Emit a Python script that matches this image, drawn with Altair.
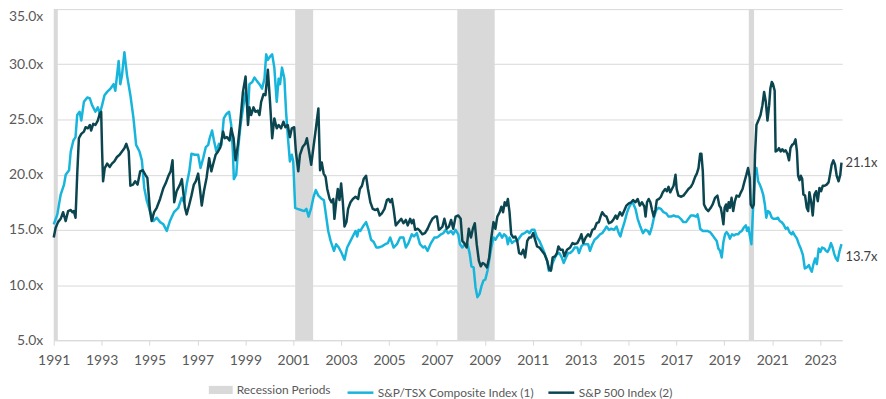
import altair as alt
import pandas as pd

# ---- data (decimal year, forward P/E) ----
tsx_points = [
    (1991.00, 15.5), (1991.15, 16.4), (1991.29, 18.2), (1991.43, 19.1), (1991.50, 20.0),
    (1991.64, 20.4), (1991.71, 22.1), (1991.82, 23.1), (1991.91, 23.4), (1991.98, 25.4),
    (1992.08, 25.7), (1992.15, 24.9), (1992.26, 26.6), (1992.40, 27.0), (1992.51, 26.9),
    (1992.60, 26.3), (1992.74, 25.7), (1992.84, 26.1), (1992.92, 25.5), (1993.02, 26.3),
    (1993.12, 27.2), (1993.23, 27.5), (1993.37, 27.8), (1993.50, 28.2), (1993.57, 27.6),
    (1993.71, 30.3), (1993.78, 28.2), (1993.85, 29.0), (1993.95, 31.1), (1994.06, 29.0),
    (1994.20, 27.2), (1994.33, 25.1), (1994.44, 22.7), (1994.58, 22.1), (1994.68, 21.3),
    (1994.78, 18.8), (1994.89, 17.6), (1995.02, 16.7), (1995.16, 15.8), (1995.30, 16.1),
    (1995.44, 15.7), (1995.58, 15.5), (1995.72, 14.9), (1995.85, 15.8), (1996.02, 16.6),
    (1996.20, 17.0), (1996.34, 17.9), (1996.44, 17.5), (1996.55, 19.1), (1996.66, 20.3),
    (1996.75, 21.9), (1996.89, 21.8), (1997.03, 21.8), (1997.13, 20.6), (1997.24, 21.5),
    (1997.35, 22.5), (1997.45, 22.7), (1997.51, 23.3), (1997.61, 24.0), (1997.69, 23.1),
    (1997.79, 22.1), (1997.90, 22.8), (1998.00, 22.7), (1998.10, 25.1), (1998.21, 25.5),
    (1998.32, 25.7), (1998.41, 24.5), (1998.48, 22.1), (1998.52, 19.6), (1998.62, 20.0),
    (1998.70, 22.4), (1998.80, 24.5), (1998.90, 26.0), (1999.01, 27.5), (1999.11, 25.7),
    (1999.17, 28.2), (1999.29, 28.4), (1999.38, 28.8), (1999.48, 28.5), (1999.59, 28.2),
    (1999.70, 27.8), (1999.80, 28.7), (1999.87, 30.9), (1999.94, 30.4), (2000.03, 30.7),
    (2000.12, 30.9), (2000.21, 29.7), (2000.31, 26.6), (2000.39, 28.7), (2000.45, 28.2),
    (2000.53, 29.7), (2000.63, 28.7), (2000.70, 25.7), (2000.78, 23.3), (2000.86, 21.2),
    (2000.94, 21.8), (2001.00, 21.2), (2001.08, 17.0), (2001.18, 16.9), (2001.32, 16.8),
    (2001.46, 16.7), (2001.55, 16.9), (2001.64, 16.2), (2001.75, 17.0), (2001.85, 18.0),
    (2001.94, 18.6), (2002.05, 18.1), (2002.19, 17.8), (2002.28, 17.7), (2002.46, 14.9),
    (2002.56, 14.0), (2002.70, 13.1), (2002.79, 13.7), (2002.90, 13.4), (2003.02, 12.9),
    (2003.14, 12.3), (2003.25, 13.4), (2003.39, 14.0), (2003.53, 14.6), (2003.60, 14.9),
    (2003.67, 14.4), (2003.73, 15.0), (2003.80, 14.9), (2003.94, 15.4), (2004.04, 15.7),
    (2004.15, 15.0), (2004.25, 14.1), (2004.36, 13.9), (2004.47, 13.4), (2004.56, 13.4),
    (2004.70, 13.5), (2004.84, 13.7), (2004.95, 13.8), (2005.05, 14.3), (2005.19, 13.4),
    (2005.33, 13.7), (2005.46, 14.3), (2005.60, 14.3), (2005.70, 13.4), (2005.81, 13.8),
    (2005.95, 14.6), (2006.04, 14.4), (2006.16, 14.7), (2006.29, 13.7), (2006.43, 13.4),
    (2006.50, 13.5), (2006.61, 13.1), (2006.75, 13.8), (2006.89, 14.3), (2006.99, 14.3),
    (2007.06, 14.4), (2007.17, 14.6), (2007.27, 14.7), (2007.36, 15.0), (2007.47, 14.7),
    (2007.59, 14.9), (2007.68, 14.6), (2007.78, 15.0), (2007.89, 14.6), (2007.96, 13.7),
    (2008.06, 13.4), (2008.17, 13.7), (2008.28, 13.7), (2008.37, 12.8), (2008.44, 11.7),
    (2008.53, 11.6), (2008.61, 9.8), (2008.69, 8.9), (2008.78, 9.2), (2008.86, 9.9),
    (2008.94, 10.4), (2009.02, 10.5), (2009.11, 11.3), (2009.20, 12.5), (2009.27, 13.4),
    (2009.36, 14.3), (2009.44, 14.1), (2009.52, 14.4), (2009.62, 14.7), (2009.72, 14.3),
    (2009.80, 14.6), (2009.90, 14.4), (2009.96, 13.7), (2010.03, 14.3), (2010.13, 13.8),
    (2010.24, 14.0), (2010.35, 14.0), (2010.45, 14.3), (2010.55, 14.6), (2010.66, 14.7),
    (2010.77, 14.9), (2010.86, 14.7), (2010.96, 15.0), (2011.07, 15.0), (2011.18, 14.3),
    (2011.28, 14.0), (2011.38, 13.5), (2011.49, 12.9), (2011.60, 12.2), (2011.67, 11.3),
    (2011.76, 11.4), (2011.83, 12.0), (2011.93, 12.5), (2012.01, 12.8), (2012.11, 12.9),
    (2012.21, 12.5), (2012.29, 12.0), (2012.39, 12.5), (2012.48, 12.9), (2012.56, 12.9),
    (2012.66, 13.1), (2012.75, 13.4), (2012.86, 13.4), (2012.93, 12.9), (2013.03, 13.5),
    (2013.11, 13.7), (2013.21, 13.7), (2013.31, 13.7), (2013.39, 13.1), (2013.49, 13.7),
    (2013.58, 14.1), (2013.69, 14.3), (2013.81, 14.6), (2013.90, 14.7), (2014.00, 15.0),
    (2014.08, 15.3), (2014.18, 15.0), (2014.28, 15.1), (2014.39, 15.0), (2014.50, 15.3),
    (2014.59, 14.7), (2014.66, 14.4), (2014.73, 15.0), (2014.83, 15.7), (2014.94, 16.6),
    (2015.01, 17.0), (2015.11, 17.4), (2015.19, 17.4), (2015.29, 16.9), (2015.38, 16.0),
    (2015.49, 15.3), (2015.60, 14.7), (2015.70, 15.0), (2015.80, 14.9), (2015.88, 14.6),
    (2015.98, 15.3), (2016.07, 16.2), (2016.16, 16.8), (2016.25, 17.0), (2016.35, 16.9),
    (2016.46, 16.6), (2016.57, 16.5), (2016.67, 16.2), (2016.77, 16.2), (2016.88, 16.3),
    (2016.99, 16.2), (2017.08, 16.2), (2017.18, 16.0), (2017.29, 15.7), (2017.40, 15.7),
    (2017.50, 16.0), (2017.60, 16.3), (2017.71, 16.3), (2017.82, 16.2), (2017.88, 16.4),
    (2017.94, 15.8), (2017.99, 15.1), (2018.10, 14.9), (2018.20, 14.9), (2018.29, 14.9),
    (2018.40, 14.8), (2018.51, 14.5), (2018.61, 14.2), (2018.68, 14.0), (2018.75, 13.3),
    (2018.82, 13.1), (2018.89, 12.5), (2018.96, 13.9), (2019.03, 14.6), (2019.09, 14.8),
    (2019.16, 14.6), (2019.23, 14.2), (2019.32, 14.6), (2019.40, 14.5), (2019.48, 14.6),
    (2019.58, 14.6), (2019.65, 14.8), (2019.73, 14.9), (2019.81, 15.2), (2019.90, 15.4),
    (2019.95, 14.9), (2020.01, 15.2), (2020.06, 14.5), (2020.13, 13.7), (2020.20, 17.0),
    (2020.27, 20.0), (2020.34, 20.6), (2020.41, 19.4), (2020.48, 19.1), (2020.55, 18.7),
    (2020.62, 18.2), (2020.69, 17.3), (2020.75, 16.1), (2020.82, 16.7), (2020.89, 16.6),
    (2020.98, 16.1), (2021.06, 16.0), (2021.14, 16.0), (2021.24, 16.1), (2021.31, 15.8),
    (2021.39, 15.7), (2021.47, 15.5), (2021.56, 15.1), (2021.64, 15.2), (2021.72, 14.8),
    (2021.81, 14.6), (2021.86, 14.8), (2021.94, 14.5), (2022.03, 14.2), (2022.11, 13.7),
    (2022.19, 13.3), (2022.28, 12.7), (2022.36, 11.5), (2022.44, 11.6), (2022.53, 11.8),
    (2022.58, 11.5), (2022.65, 11.2), (2022.72, 11.9), (2022.79, 12.4), (2022.86, 11.9),
    (2022.94, 13.3), (2023.01, 13.0), (2023.08, 13.4), (2023.18, 13.3), (2023.24, 13.1),
    (2023.31, 13.0), (2023.38, 13.3), (2023.45, 13.8), (2023.52, 13.4), (2023.59, 12.8),
    (2023.66, 12.4), (2023.73, 12.2), (2023.80, 13.0), (2023.89, 13.7),
]

spx_points = [
    (1991.00, 14.3), (1991.08, 15.2), (1991.18, 15.7), (1991.29, 16.0), (1991.39, 16.6),
    (1991.50, 15.8), (1991.60, 16.7), (1991.71, 16.8), (1991.78, 16.6), (1991.84, 16.7),
    (1991.91, 16.1), (1991.98, 20.0), (1992.05, 23.3), (1992.15, 23.7), (1992.26, 23.9),
    (1992.33, 24.3), (1992.42, 24.2), (1992.51, 24.5), (1992.56, 24.0), (1992.65, 24.6),
    (1992.74, 24.5), (1992.84, 24.9), (1992.92, 25.5), (1992.98, 25.7), (1993.02, 22.1),
    (1993.06, 19.4), (1993.13, 20.6), (1993.23, 21.0), (1993.34, 20.7), (1993.43, 21.0),
    (1993.53, 21.2), (1993.64, 21.6), (1993.75, 21.8), (1993.85, 22.1), (1993.95, 22.4),
    (1994.03, 22.8), (1994.13, 22.1), (1994.20, 19.0), (1994.31, 19.1), (1994.40, 19.4),
    (1994.50, 19.1), (1994.61, 20.3), (1994.72, 20.4), (1994.82, 20.0), (1994.91, 19.7),
    (1995.02, 16.7), (1995.09, 15.8), (1995.19, 16.6), (1995.30, 17.0), (1995.44, 17.8),
    (1995.58, 18.8), (1995.69, 19.3), (1995.79, 19.9), (1995.88, 20.3), (1995.96, 21.3),
    (1996.03, 17.5), (1996.13, 18.5), (1996.27, 19.1), (1996.35, 19.6), (1996.48, 17.0),
    (1996.55, 16.4), (1996.66, 17.3), (1996.75, 18.1), (1996.85, 19.1), (1996.93, 19.4),
    (1997.03, 20.1), (1997.10, 18.8), (1997.18, 17.2), (1997.27, 18.5), (1997.38, 19.7),
    (1997.49, 21.5), (1997.58, 20.3), (1997.65, 20.9), (1997.76, 21.8), (1997.86, 22.1),
    (1997.96, 22.5), (1998.07, 23.9), (1998.14, 23.3), (1998.23, 23.4), (1998.34, 23.1),
    (1998.41, 24.2), (1998.51, 23.3), (1998.59, 21.3), (1998.69, 22.7), (1998.79, 24.8),
    (1998.90, 27.5), (1999.01, 28.9), (1999.11, 24.5), (1999.17, 26.1), (1999.24, 25.4),
    (1999.34, 26.1), (1999.42, 25.7), (1999.52, 25.8), (1999.59, 25.4), (1999.66, 26.6),
    (1999.76, 27.3), (1999.84, 27.2), (1999.94, 29.5), (2000.03, 26.6), (2000.12, 23.3),
    (2000.21, 25.1), (2000.31, 24.2), (2000.39, 24.5), (2000.49, 24.2), (2000.59, 24.8),
    (2000.67, 24.3), (2000.77, 24.5), (2000.86, 23.4), (2000.94, 24.2), (2001.04, 24.3),
    (2001.11, 22.1), (2001.21, 20.3), (2001.28, 21.8), (2001.39, 22.5), (2001.50, 22.8),
    (2001.57, 23.3), (2001.66, 22.1), (2001.75, 20.9), (2001.85, 22.6), (2001.94, 24.1),
    (2002.05, 26.0), (2002.12, 20.4), (2002.19, 21.1), (2002.27, 20.1), (2002.35, 19.8),
    (2002.42, 18.7), (2002.52, 17.8), (2002.60, 17.5), (2002.67, 17.8), (2002.72, 16.0),
    (2002.79, 17.5), (2002.86, 18.7), (2002.93, 17.7), (2003.00, 19.2), (2003.07, 17.5),
    (2003.14, 15.3), (2003.22, 15.7), (2003.29, 16.9), (2003.39, 17.5), (2003.49, 17.8),
    (2003.60, 18.0), (2003.71, 17.8), (2003.78, 18.7), (2003.87, 19.0), (2003.94, 19.6),
    (2004.04, 19.9), (2004.12, 18.7), (2004.22, 17.5), (2004.32, 16.9), (2004.43, 16.8),
    (2004.52, 16.9), (2004.61, 16.3), (2004.70, 16.5), (2004.81, 16.9), (2004.91, 17.7),
    (2004.98, 17.8), (2005.05, 17.5), (2005.12, 17.8), (2005.19, 16.9), (2005.28, 15.4),
    (2005.39, 15.7), (2005.51, 16.0), (2005.60, 15.6), (2005.70, 15.9), (2005.78, 15.4),
    (2005.88, 16.0), (2005.95, 15.6), (2006.02, 15.9), (2006.09, 15.0), (2006.20, 15.1),
    (2006.29, 14.9), (2006.39, 14.6), (2006.50, 14.7), (2006.61, 15.1), (2006.71, 15.6),
    (2006.81, 16.0), (2006.92, 16.2), (2007.00, 16.2), (2007.08, 15.0), (2007.14, 15.1),
    (2007.23, 15.3), (2007.31, 16.0), (2007.41, 15.1), (2007.50, 15.3), (2007.59, 15.9),
    (2007.68, 15.1), (2007.78, 16.2), (2007.89, 16.3), (2007.99, 16.0), (2008.06, 14.0),
    (2008.14, 13.8), (2008.24, 13.4), (2008.33, 15.1), (2008.42, 14.3), (2008.50, 15.1),
    (2008.58, 15.6), (2008.66, 13.7), (2008.75, 12.2), (2008.83, 11.7), (2008.91, 12.0),
    (2008.98, 11.9), (2009.09, 11.6), (2009.18, 12.5), (2009.27, 14.3), (2009.36, 15.7),
    (2009.44, 15.1), (2009.52, 16.2), (2009.62, 16.6), (2009.69, 17.1), (2009.76, 16.6),
    (2009.83, 17.5), (2009.90, 17.2), (2009.96, 17.8), (2010.03, 16.6), (2010.10, 14.6),
    (2010.19, 14.3), (2010.27, 14.4), (2010.35, 14.0), (2010.43, 12.9), (2010.52, 12.8),
    (2010.60, 13.2), (2010.68, 12.5), (2010.77, 14.0), (2010.85, 14.3), (2010.93, 14.3),
    (2011.02, 14.7), (2011.10, 14.1), (2011.18, 13.5), (2011.28, 13.4), (2011.38, 13.1),
    (2011.49, 12.8), (2011.60, 12.2), (2011.69, 11.4), (2011.76, 11.3), (2011.83, 12.5),
    (2011.93, 12.6), (2012.01, 12.9), (2012.07, 13.5), (2012.15, 13.2), (2012.25, 13.2),
    (2012.32, 12.6), (2012.43, 13.2), (2012.56, 13.4), (2012.66, 13.8), (2012.75, 13.7),
    (2012.86, 13.8), (2012.98, 14.3), (2013.03, 14.6), (2013.11, 13.8), (2013.21, 14.3),
    (2013.31, 14.6), (2013.39, 14.4), (2013.49, 15.0), (2013.58, 15.1), (2013.67, 15.6),
    (2013.76, 15.7), (2013.83, 16.2), (2013.90, 16.6), (2014.00, 16.3), (2014.08, 16.2),
    (2014.18, 15.6), (2014.28, 15.7), (2014.36, 15.9), (2014.46, 16.3), (2014.52, 16.0),
    (2014.64, 16.6), (2014.73, 16.3), (2014.83, 16.8), (2014.91, 17.2), (2015.01, 17.4),
    (2015.11, 17.5), (2015.19, 17.7), (2015.29, 17.5), (2015.38, 17.8), (2015.47, 17.2),
    (2015.56, 17.5), (2015.66, 17.1), (2015.71, 16.2), (2015.77, 17.5), (2015.84, 17.8),
    (2015.91, 17.5), (2015.98, 16.8), (2016.05, 16.2), (2016.12, 16.8), (2016.18, 17.7),
    (2016.27, 17.8), (2016.35, 18.0), (2016.43, 18.4), (2016.53, 18.7), (2016.60, 18.5),
    (2016.67, 18.9), (2016.74, 18.4), (2016.81, 18.7), (2016.88, 19.0), (2016.96, 20.0),
    (2017.01, 18.7), (2017.08, 18.1), (2017.18, 18.0), (2017.29, 18.1), (2017.40, 18.4),
    (2017.50, 18.7), (2017.60, 18.9), (2017.68, 19.2), (2017.78, 19.8), (2017.85, 20.1),
    (2017.92, 20.6), (2017.99, 21.9), (2018.04, 21.9), (2018.10, 20.3), (2018.15, 17.3),
    (2018.24, 16.9), (2018.33, 16.7), (2018.43, 17.0), (2018.51, 17.3), (2018.61, 17.9),
    (2018.71, 18.1), (2018.79, 17.2), (2018.85, 17.0), (2018.90, 16.4), (2018.96, 15.5),
    (2019.01, 17.0), (2019.07, 17.3), (2019.12, 16.7), (2019.18, 17.5), (2019.23, 17.0),
    (2019.30, 17.9), (2019.37, 16.7), (2019.44, 17.6), (2019.51, 18.1), (2019.61, 18.0),
    (2019.69, 18.4), (2019.76, 18.7), (2019.83, 19.3), (2019.92, 20.0), (2019.99, 20.6),
    (2020.06, 19.7), (2020.10, 17.3), (2020.17, 17.0), (2020.23, 17.3), (2020.28, 21.8),
    (2020.34, 24.5), (2020.42, 24.9), (2020.51, 25.4), (2020.59, 26.3), (2020.66, 27.5),
    (2020.73, 26.6), (2020.80, 24.9), (2020.87, 26.3), (2020.92, 27.8), (2020.98, 28.4),
    (2021.03, 28.2), (2021.10, 27.6), (2021.14, 22.1), (2021.21, 22.2), (2021.28, 22.4),
    (2021.35, 22.1), (2021.42, 22.3), (2021.49, 22.1), (2021.56, 22.2), (2021.63, 21.9),
    (2021.70, 21.3), (2021.76, 22.4), (2021.83, 22.7), (2021.90, 22.8), (2021.97, 23.2),
    (2022.03, 22.1), (2022.08, 19.9), (2022.14, 19.5), (2022.19, 19.9), (2022.25, 19.6),
    (2022.30, 18.2), (2022.37, 18.1), (2022.44, 17.0), (2022.50, 16.7), (2022.55, 18.4),
    (2022.62, 17.6), (2022.69, 16.3), (2022.76, 18.2), (2022.83, 18.5), (2022.90, 17.6),
    (2022.97, 18.8), (2023.04, 18.5), (2023.11, 19.0), (2023.19, 19.0), (2023.27, 19.1),
    (2023.35, 19.3), (2023.41, 20.0), (2023.48, 20.9), (2023.55, 21.3), (2023.62, 20.9),
    (2023.69, 19.9), (2023.77, 19.4), (2023.84, 20.0), (2023.89, 21.1),
]

recession_start = [1991.00, 2001.08, 2007.85, 2020.02]
recession_end = [1991.17, 2001.83, 2009.41, 2020.24]
recession_label = "Recession Periods"

series_names = ["S&P/TSX Composite Index (1)", "S&P 500 Index (2)"]
series_colors = ["#17b4dc", "#0b4650"]
year_ticks = list(range(1991, 2024, 2))
pe_ticks = [5, 10, 15, 20, 25, 30, 35]

FONT = "Lato"
GREY_TXT = "#595959"
GRID = "#d9d9d9"

tsx_df = pd.DataFrame(tsx_points, columns=["year", "pe"])
tsx_df["series"] = series_names[0]
spx_df = pd.DataFrame(spx_points, columns=["year", "pe"])
spx_df["series"] = series_names[1]
rec_df = pd.DataFrame({"start": recession_start, "end": recession_end,
                       "label": [recession_label] * len(recession_start)})

x_scale = alt.Scale(domain=[1991, 2023.92], nice=False, zero=False)
y_scale = alt.Scale(domain=[5, 35], nice=False, zero=False)

x_axis = alt.Axis(values=year_ticks, format="d", title=None, grid=False,
                  domainColor=GRID, tickColor=GRID, tickSize=5, labelPadding=8,
                  labelFont=FONT, labelFontSize=14, labelColor=GREY_TXT,
                  labelFlush=False, labelOverlap=False)
y_axis = alt.Axis(values=pe_ticks, labelExpr="format(datum.value, '.1f') + 'x'",
                  title=None, grid=True, gridColor=GRID, domain=False, ticks=False,
                  labelPadding=11, labelFont=FONT, labelFontSize=14, labelColor=GREY_TXT,
                  labelBaseline={"condition": {"test": "datum.value == 35", "value": "top"},
                                 "value": "middle"},
                  minExtent=43, maxExtent=43)

rec = alt.Chart(rec_df).mark_rect(opacity=1).encode(
    x=alt.X("start:Q", scale=x_scale, axis=x_axis),
    x2="end:Q",
    y=alt.datum(5, scale=y_scale, axis=y_axis),
    y2=alt.datum(35),
    fill=alt.Fill("label:N", scale=alt.Scale(domain=[recession_label], range=[GRID]),
                  legend=alt.Legend(orient="none", legendX=156, legendY=371, title=None,
                                    symbolType="M-1,-0.34H1V0.34H-1Z", symbolSize=576,
                                    symbolStrokeWidth=0, labelOffset=4, padding=0,
                                    labelFont=FONT, labelFontSize=12, labelColor=GREY_TXT,
                                    labelLimit=300)),
)

color_scale = alt.Scale(domain=series_names, range=series_colors)
line_legend = alt.Legend(orient="none", legendX=294, legendY=371, title=None,
                         direction="horizontal", symbolType="stroke", symbolSize=676,
                         symbolStrokeWidth=2.5, labelOffset=3, columnPadding=9, padding=0,
                         labelFont=FONT, labelFontSize=12, labelColor=GREY_TXT, labelLimit=300)

tsx_line = alt.Chart(tsx_df).mark_line(strokeWidth=2.5, strokeJoin="round").encode(
    x=alt.X("year:Q", scale=x_scale),
    y=alt.Y("pe:Q", scale=y_scale),
    color=alt.Color("series:N", scale=color_scale, legend=line_legend),
)
spx_line = alt.Chart(spx_df).mark_line(strokeWidth=2.5, strokeJoin="round").encode(
    x=alt.X("year:Q", scale=x_scale),
    y=alt.Y("pe:Q", scale=y_scale),
    color=alt.Color("series:N", scale=color_scale, legend=line_legend),
)

spx_end = pd.DataFrame({"year": [spx_points[-1][0]], "pe": [spx_points[-1][1]]})
tsx_end = pd.DataFrame({"year": [tsx_points[-1][0]], "pe": [tsx_points[-1][1]]})

spx_label = alt.Chart(spx_end).transform_calculate(
    label="format(datum.pe, '.1f') + 'x'"
).mark_text(align="left", baseline="middle", dx=4, font=FONT, fontSize=13,
            color="#404040").encode(x=alt.X("year:Q", scale=x_scale),
                                   y=alt.Y("pe:Q", scale=y_scale), text="label:N")
tsx_label = alt.Chart(tsx_end).transform_calculate(
    label="format(datum.pe, '.1f') + 'x'"
).mark_text(align="left", baseline="middle", dx=4, dy=13, font=FONT, fontSize=13,
            color="#404040").encode(x=alt.X("year:Q", scale=x_scale),
                                   y=alt.Y("pe:Q", scale=y_scale), text="label:N")

chart = alt.layer(rec, tsx_line, spx_line, spx_label, tsx_label).properties(
    width=793, height=333,
    padding={"left": 0, "top": 0, "right": 0, "bottom": 0},
).configure_view(stroke=None).configure_axis(labelFont=FONT)

chart.save("out.html", embed_options={"renderer": "svg", "actions": False})
